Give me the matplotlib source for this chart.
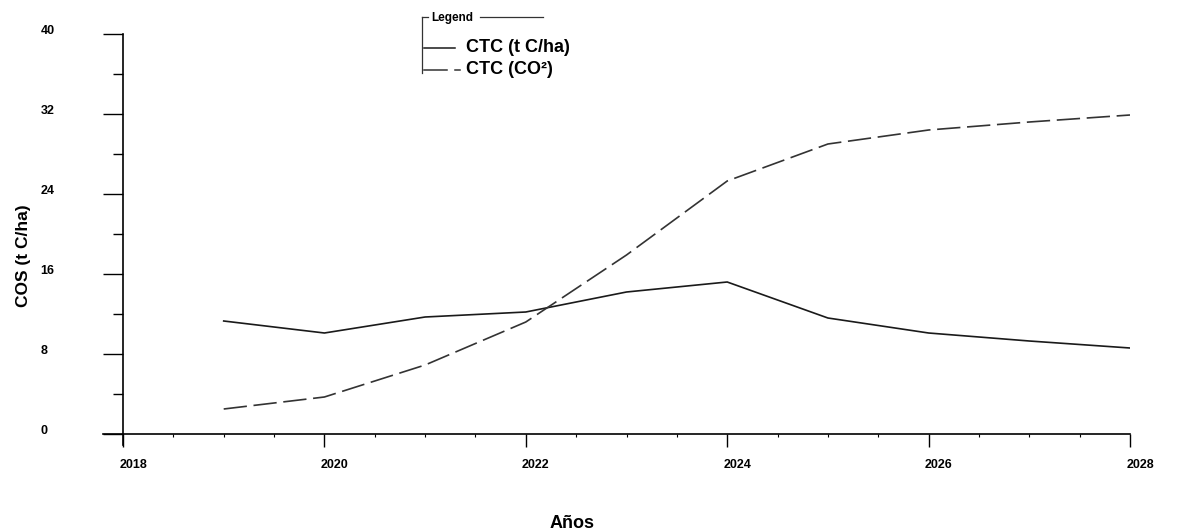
import matplotlib
matplotlib.use("Agg")
import matplotlib.pyplot as plt
from matplotlib.lines import Line2D
from matplotlib.transforms import ScaledTranslation
from matplotlib.ticker import MultipleLocator

years = [2019, 2020, 2021, 2022, 2023, 2024, 2025, 2026, 2027, 2028]
ctc_tcha = [11.3, 10.1, 11.7, 12.2, 14.2, 15.2, 11.6, 10.1, 9.3, 8.6]
ctc_co2 = [2.5, 3.7, 6.9, 11.2, 17.9, 25.3, 29.0, 30.4, 31.2, 31.9]
x_ticks = [2018, 2020, 2022, 2024, 2026, 2028]
y_ticks = [0, 8, 16, 24, 32, 40]
series_names = ["CTC (t C/ha)", "CTC (CO²)"]

W, H = 1180, 532
fig = plt.figure(figsize=(W / 100, H / 100), dpi=100)
fig.patch.set_facecolor("white")
ax = fig.add_axes([123 / W, (H - 434) / H, (1130 - 123) / W, 400 / H])

FONT = "Liberation Sans"
ax.plot(years, ctc_tcha, color="#1a1a1a", lw=1.2, solid_joinstyle="miter")
ax.plot(years, ctc_co2, color="#333333", lw=1.2, dashes=(14, 4))

ax.set_xlim(2018, 2028)
ax.set_ylim(0, 40)
for s in ax.spines.values():
    s.set_visible(False)

# axis lines extending beyond plot
ax.add_line(Line2D([0, 0], [1, -11 / 400], transform=ax.transAxes, color="black", lw=1.2, clip_on=False))
ax.add_line(Line2D([-20 / 1007, 1], [0, 0], transform=ax.transAxes, color="black", lw=1.2, clip_on=False))

ax.set_xticks(x_ticks)
ax.set_xticklabels([str(t) for t in x_ticks])
ax.xaxis.set_minor_locator(MultipleLocator(0.5))
ax.set_yticks(y_ticks)
ax.set_yticklabels([str(t) for t in y_ticks])
ax.yaxis.set_minor_locator(MultipleLocator(4))

ax.tick_params(axis="x", which="major", direction="out", length=9, width=1.0, pad=9)
ax.tick_params(axis="x", which="minor", direction="out", length=2.5, width=0.8)
ax.tick_params(axis="y", which="major", direction="out", length=14.4, width=1.0, pad=45)
ax.tick_params(axis="y", which="minor", direction="out", length=7.2, width=1.0)

for lab in ax.get_xticklabels():
    lab.set_fontfamily(FONT)
    lab.set_fontweight("bold")
    lab.set_fontsize(9)
    lab.set_transform(lab.get_transform() + ScaledTranslation(10 / 100, 0, fig.dpi_scale_trans))
for lab in ax.get_yticklabels():
    lab.set_fontfamily(FONT)
    lab.set_fontweight("bold")
    lab.set_fontsize(9)
    lab.set_horizontalalignment("left")
    lab.set_transform(lab.get_transform() + ScaledTranslation(0, 4 / 100, fig.dpi_scale_trans))

fig.text(24 / W, 1 - 256 / H, "COS (t C/ha)", rotation=90, ha="center", va="center",
         fontsize=12.5, fontweight="bold", family=FONT)
fig.text(572 / W, 1 - 523 / H, "Años", ha="center", va="center",
         fontsize=13, fontweight="bold", family=FONT)

# legend box (custom bracket style)
def fx(px):
    return px / W

def fy(py):
    return 1 - py / H

fig.add_artist(Line2D([fx(422), fx(422)], [fy(17), fy(73)], color="#333333", lw=0.9))
fig.add_artist(Line2D([fx(422), fx(428)], [fy(17), fy(17)], color="#333333", lw=0.9))
fig.add_artist(Line2D([fx(480), fx(543)], [fy(17), fy(17)], color="#333333", lw=0.9))
fig.text(fx(431), fy(18), "Legend", ha="left", va="center", fontsize=8.5, fontweight="bold", family=FONT)
fig.add_artist(Line2D([fx(424), fx(455)], [fy(48), fy(48)], color="#1a1a1a", lw=1.1))
fig.add_artist(Line2D([fx(424), fx(447)], [fy(70), fy(70)], color="#333333", lw=1.1))
fig.add_artist(Line2D([fx(455), fx(460)], [fy(70), fy(70)], color="#333333", lw=1.1))
fig.text(fx(466), fy(48), series_names[0], ha="left", va="center", fontsize=13, fontweight="bold", family=FONT)
fig.text(fx(466), fy(70), series_names[1], ha="left", va="center", fontsize=13, fontweight="bold", family=FONT)

fig.savefig("out.png", dpi=100, facecolor="white")
